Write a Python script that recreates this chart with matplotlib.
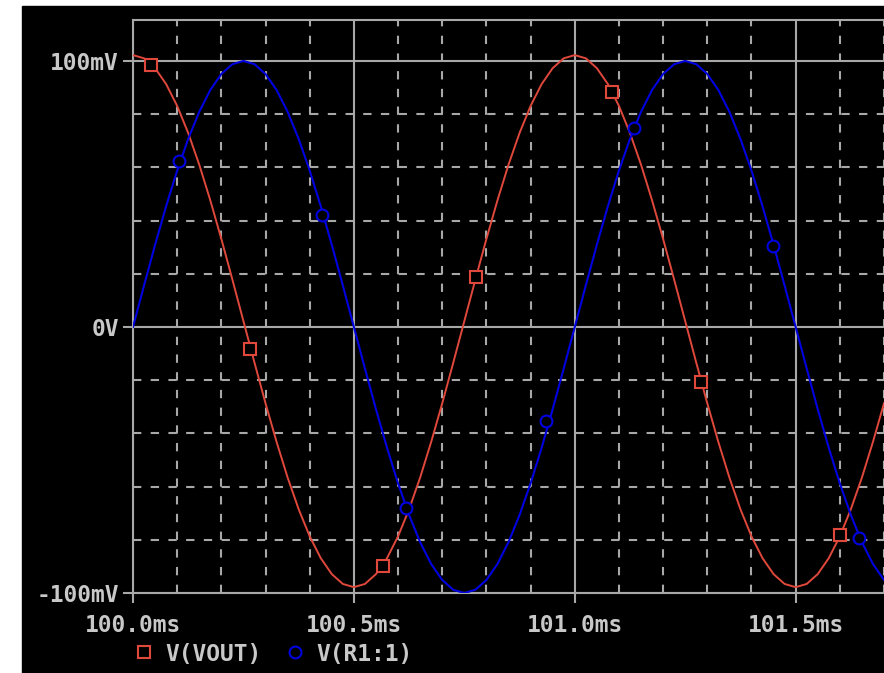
import matplotlib
matplotlib.use("Agg")
import matplotlib.pyplot as plt
from matplotlib.lines import Line2D
from matplotlib.patches import Rectangle
import numpy as np

# transient sweep, time in ms (0.025 ms step)
time_ms = [100.0 + 0.025 * k for k in range(69)]

# V(R1:1) in mV
v_r1 = [0, 15.6, 30.9, 45.4, 58.8, 70.7, 80.9, 89.1, 95.1, 98.8,
        100, 98.8, 95.1, 89.1, 80.9, 70.7, 58.8, 45.4, 30.9, 15.6,
        0, -15.6, -30.9, -45.4, -58.8, -70.7, -80.9, -89.1, -95.1, -98.8,
        -100, -98.8, -95.1, -89.1, -80.9, -70.7, -58.8, -45.4, -30.9, -15.6,
        0, 15.6, 30.9, 45.4, 58.8, 70.7, 80.9, 89.1, 95.1, 98.8,
        100, 98.8, 95.1, 89.1, 80.9, 70.7, 58.8, 45.4, 30.9, 15.6,
        0, -15.6, -30.9, -45.4, -58.8, -70.7, -80.9, -89.1, -95.1]

# V(VOUT) in mV, sits ~2 mV high
v_out = [102.2, 101.0, 97.3, 91.3, 83.1, 72.9, 61.0, 47.6, 33.1, 17.8,
         2.2, -13.4, -28.7, -43.2, -56.6, -68.5, -78.7, -86.9, -92.9, -96.6,
         -97.8, -96.6, -92.9, -86.9, -78.7, -68.5, -56.6, -43.2, -28.7, -13.4,
         2.2, 17.8, 33.1, 47.6, 61.0, 72.9, 83.1, 91.3, 97.3, 101.0,
         102.2, 101.0, 97.3, 91.3, 83.1, 72.9, 61.0, 47.6, 33.1, 17.8,
         2.2, -13.4, -28.7, -43.2, -56.6, -68.5, -78.7, -86.9, -92.9, -96.6,
         -97.8, -96.6, -92.9, -86.9, -78.7, -68.5, -56.6, -43.2, -28.7]

# trace markers as PSpice placed them
out_mark_t = [100.041, 100.265, 100.566, 100.776, 101.084, 101.285, 101.600]
out_mark_v = [98.5, -8.3, -89.8, 18.8, 88.3, -20.7, -78.2]
r1_mark_t = [100.104, 100.428, 100.618, 100.934, 101.133, 101.448, 101.643]
r1_mark_v = [62.4, 42.1, -68.0, -35.3, 74.8, 30.5, -79.3]

x_ticks = [100.0, 100.5, 101.0, 101.5]
x_labels = ["100.0ms", "100.5ms", "101.0ms", "101.5ms"]
y_ticks = [-100, 0, 100]
y_labels = ["-100mV", "0V", "100mV"]
legend_labels = ["V(VOUT)", "V(R1:1)"]

RED = "#e0483c"
BLUE = "#0000e0"
GRID = "#a8a8a8"
TXT = "#c8c8c8"

W, H = 884, 673
fig = plt.figure(figsize=(W / 100, H / 100), dpi=100)
fig.patch.set_facecolor("white")
# black probe window behind everything
fig.patches.append(Rectangle((22 / W, 0), (W - 22) / W, (H - 6) / H,
                             transform=fig.transFigure, color="black", zorder=-5))

ax = fig.add_axes([133 / W, 80 / H, 751 / W, 573 / H])
ax.set_facecolor("black")
ax.set_xlim(100.0, 101.699)
ax.set_ylim(-100, 115.4)

for side in ["left", "top", "bottom"]:
    ax.spines[side].set_color(GRID)
    ax.spines[side].set_linewidth(1.5)
ax.spines["right"].set_visible(False)

ax.set_xticks(x_ticks)
ax.set_xticklabels(x_labels)
ax.set_xticks(np.arange(100.0, 101.75, 0.1), minor=True)
ax.set_yticks(y_ticks)
ax.set_yticklabels(y_labels)
ax.set_yticks(np.arange(-80, 101, 20), minor=True)

tfont = dict(family="DejaVu Sans Mono", weight="bold", size=16.5)
for lab in ax.get_xticklabels() + ax.get_yticklabels():
    lab.set_fontfamily(tfont["family"])
    lab.set_fontweight(tfont["weight"])
    lab.set_fontsize(tfont["size"])
    lab.set_color(TXT)
ax.tick_params(axis="x", which="major", length=7.2, width=1.5, color=GRID, pad=8)
ax.tick_params(axis="y", which="major", length=7.2, width=1.5, color=GRID, pad=3)
ax.tick_params(which="minor", length=0)

ax.grid(which="major", color=GRID, linestyle="-", linewidth=1.5)
ax.grid(which="minor", color=GRID, linestyle=(0, (4, 4.5)), linewidth=1.5)
ax.set_axisbelow(True)

ax.plot(time_ms, v_out, color=RED, linewidth=1.4, zorder=3)
ax.plot(time_ms, v_r1, color=BLUE, linewidth=1.5, zorder=3)
ax.plot(out_mark_t, out_mark_v, ls="none", marker="s", ms=8.5, mfc="black",
        mec=RED, mew=1.5, zorder=4)
ax.plot(r1_mark_t, r1_mark_v, ls="none", marker="o", ms=8.5, mfc="black",
        mec=BLUE, mew=1.5, zorder=4)

handles = [Line2D([], [], ls="none", marker="s", ms=8.5, mfc="none", mec=RED, mew=1.5),
           Line2D([], [], ls="none", marker="o", ms=8.5, mfc="none", mec=BLUE, mew=1.5)]
leg = fig.legend(handles, legend_labels, loc="center left",
                 bbox_to_anchor=(133 / W, (H - 654) / H), ncol=2, frameon=False,
                 borderpad=0, borderaxespad=0, handlelength=0.95, handletextpad=0.45,
                 columnspacing=1.0, prop=tfont)
for t in leg.get_texts():
    t.set_color(TXT)

fig.savefig("out.png", dpi=100, facecolor=fig.get_facecolor())
